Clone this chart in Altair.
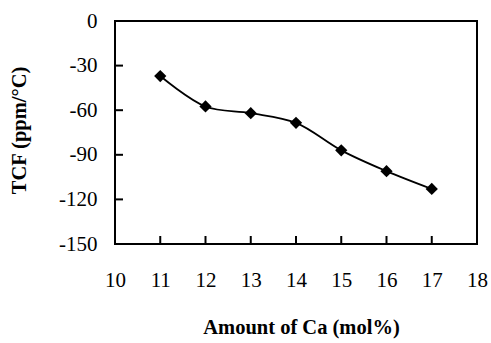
import altair as alt
import pandas as pd

ca_amount = [11, 12, 13, 14, 15, 16, 17]
tcf = [-37, -57.5, -62, -68.5, -87, -101, -113]
x_ticks = [10, 11, 12, 13, 14, 15, 16, 17, 18]
y_ticks = [0, -30, -60, -90, -120, -150]

df = pd.DataFrame({"ca": ca_amount, "tcf": tcf})
xt = pd.DataFrame({"ca": x_ticks, "tcf": [y_ticks[-1]] * len(x_ticks)})
yt = pd.DataFrame({"tcf": y_ticks, "ca": [x_ticks[0]] * len(y_ticks)})

FONT = "Liberation Serif"
TICK = 8

x_scale = alt.Scale(domain=[10, 18], nice=False, zero=False)
y_scale = alt.Scale(domain=[-150, 0], nice=False, zero=False)

x_enc = alt.X(
    "ca:Q",
    scale=x_scale,
    axis=alt.Axis(
        values=x_ticks,
        title="Amount of Ca (mol%)",
        domain=False,
        ticks=False,
        tickSize=0,
        grid=False,
        labelFlush=False,
        labelExpr="'' + datum.value",
        labelFont=FONT,
        labelFontSize=21,
        labelColor="black",
        labelBaseline="middle",
        labelPadding=36,
        titleFont=FONT,
        titleFontSize=20.5,
        titleFontWeight="bold",
        titleColor="black",
        titleBaseline="middle",
        titleAnchor="middle",
        titleX=186,
        titleY=83,
    ),
)

y_enc = alt.Y(
    "tcf:Q",
    scale=y_scale,
    axis=alt.Axis(
        values=y_ticks,
        title="TCF (ppm/°C)",
        domain=False,
        ticks=False,
        tickSize=0,
        grid=False,
        labelFlush=False,
        labelExpr="'' + datum.value",
        labelFont=FONT,
        labelFontSize=21,
        labelColor="black",
        labelPadding=18,
        labelBaseline="middle",
        titleFont=FONT,
        titleFontSize=20.5,
        titleFontWeight="bold",
        titleColor="black",
        titleAngle=270,
        titleBaseline="middle",
        titleAlign="center",
        titleX=-96,
        titleY=109,
    ),
)

line = alt.Chart(df).mark_line(
    color="black", strokeWidth=1.8, interpolate="catmull-rom"
).encode(x=x_enc, y=y_enc)

points = alt.Chart(df).mark_point(
    shape="diamond", filled=True, color="black", size=150, opacity=1
).encode(x="ca:Q", y="tcf:Q")

x_tick_marks = alt.Chart(xt).mark_tick(
    orient="vertical", color="black", thickness=2, size=TICK, yOffset=-TICK / 2, opacity=1
).encode(x="ca:Q", y="tcf:Q")

y_tick_marks = alt.Chart(yt).mark_tick(
    orient="horizontal", color="black", thickness=2, size=TICK, xOffset=TICK / 2, opacity=1
).encode(x="ca:Q", y="tcf:Q")

chart = (
    alt.layer(line, x_tick_marks, y_tick_marks, points)
    .properties(
        width=362,
        height=223,
        autosize=alt.AutoSizeParams(type="none"),
        padding={"left": 115, "top": 21, "right": 14, "bottom": 99},
        background="white",
    )
    .configure_view(stroke="black", strokeWidth=2)
)

chart.save("out.html", embed_options={"renderer": "svg", "actions": False})
